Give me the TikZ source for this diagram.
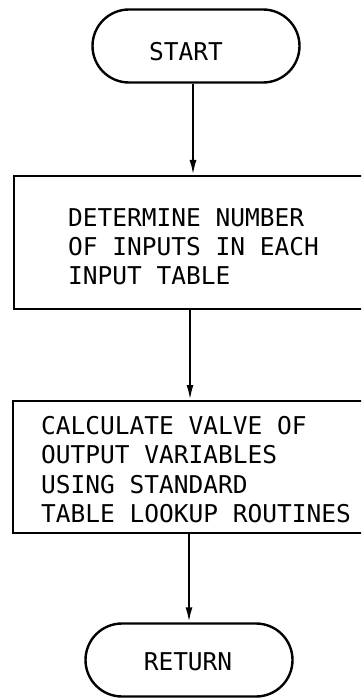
\documentclass[tikz,border=0pt]{standalone}
\usepackage{fontspec}
\setmonofont{DejaVu Sans Mono}
\usetikzlibrary{arrows.meta,shapes.misc}
\begin{document}
\begin{tikzpicture}[x=1pt,y=-1pt,
  line width=2.4pt,
  terminal/.style={draw,rounded rectangle,minimum width=207pt,minimum height=73pt,inner sep=0pt},
  procbox/.style={draw,rectangle,inner sep=0pt},
  txt/.style={font=\fontsize{24.5}{29}\ttfamily,inner sep=0pt,anchor=west},
  ctxt/.style={font=\fontsize{24.5}{29}\ttfamily,inner sep=0pt},
  arr/.style={-{Latex[length=15pt,width=7pt]},line width=2.2pt}]
\useasboundingbox (0,0) rectangle (361,700);
\clip (0,0) rectangle (361,700);
% terminals
\node[terminal] (start) at (196,46) {};
\node[ctxt] (starttxt) at (186,52) {START};
\node[terminal] (ret) at (189,660) {};
\node[ctxt] (rettxt) at (188,662) {RETURN};
% process boxes
\node[procbox,minimum width=360pt,minimum height=133pt,anchor=north west] (box1) at (13,175) {};
\node[txt] (b1a) at (67,218) {DETERMINE NUMBER};
\node[txt] (b1b) at (67,247) {OF INPUTS IN EACH};
\node[txt] (b1c) at (67,276) {INPUT TABLE};
\node[procbox,minimum width=360pt,minimum height=132pt,anchor=north west] (box2) at (12,400) {};
\node[txt] (b2a) at (40,426) {CALCULATE VALVE OF};
\node[txt] (b2b) at (40,455) {OUTPUT VARIABLES};
\node[txt] (b2c) at (40,485) {USING STANDARD};
\node[txt] (b2d) at (40,514) {TABLE LOOKUP ROUTINES};
% connectors
\coordinate (a1s) at ([xshift=-3pt]start.south);
\coordinate (a1e) at (a1s |- box1.north);
\coordinate (a2s) at (190,0 |- box1.south);
\coordinate (a2e) at (a2s |- box2.north);
\coordinate (a3s) at (ret.north |- box2.south);
\draw[arr] (a1s) -- (a1e);
\draw[arr] (a2s) -- (a2e);
\draw[arr] (a3s) -- (ret.north);
\end{tikzpicture}
\end{document}
